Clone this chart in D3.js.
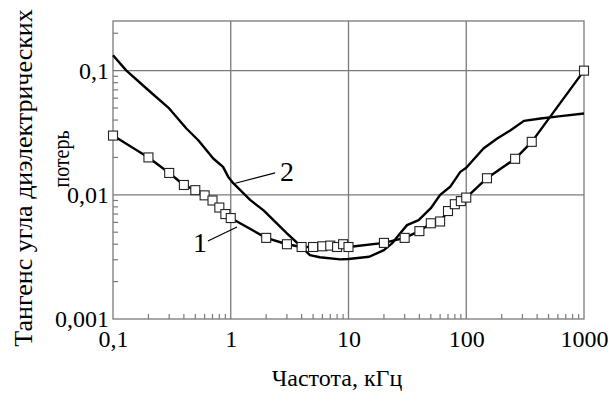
<!DOCTYPE html>
<html>
<head>
<meta charset="utf-8">
<script src="https://cdn.jsdelivr.net/npm/d3@7"></script>
<style>
  body { margin: 0; background: #fff; }
  svg text { font-family: "Liberation Serif", "Times New Roman", "DejaVu Serif", serif; fill: #000; }
</style>
</head>
<body>
<div id="chart"></div>
<script>
// curve 1 (with square markers)
const freq1 = [0.1, 0.2, 0.3, 0.4, 0.5, 0.6, 0.7, 0.8, 0.9, 1, 2, 3, 4, 5, 6, 7, 8, 9, 10,
    20, 30, 40, 50, 60, 70, 80, 90, 100, 150, 260, 360, 1000];
const tan1 = [0.030, 0.020, 0.015, 0.012, 0.0109, 0.0099, 0.0090, 0.0079, 0.0070, 0.0065,
    0.0045, 0.0040, 0.0038, 0.0038, 0.00385, 0.0039, 0.0038, 0.0040, 0.0038,
    0.0041, 0.0045, 0.0051, 0.0059, 0.0061, 0.0074, 0.0084, 0.0089, 0.0095,
    0.0136, 0.0195, 0.0267, 0.100];

// curve 2 (plain line)
const freq2 = [0.1, 0.13, 0.2, 0.3, 0.42, 0.53, 0.71, 0.86, 0.95, 1.05, 1.46, 1.9, 3, 4, 4.7,
    5.7, 8.5, 10, 15, 20, 23.4, 27.5, 31.4, 39.4, 50, 60, 73, 89, 100, 140, 183, 238,
    309, 428, 634, 1000];
const tan2 = [0.133, 0.1, 0.0695, 0.0496, 0.0342, 0.0275, 0.0196, 0.0168, 0.014, 0.0124,
    0.0091, 0.0075, 0.0049, 0.0038, 0.00327, 0.00314, 0.00302, 0.00304, 0.00317,
    0.00359, 0.00406, 0.0049, 0.0057, 0.00626, 0.0078, 0.0100, 0.0116, 0.0153,
    0.0165, 0.0236, 0.0284, 0.0331, 0.0394, 0.0412, 0.043, 0.0452];

const xTicks = [0.1, 1, 10, 100, 1000];
const yTicks = [0.001, 0.01, 0.1];

// curve labels: text, anchor on curve, end of leader line (data coords)
const labels = [
    {text: "1", from: [1.13, 0.0055], to: [0.64, 0.00425]},
    {text: "2", from: [1.09, 0.0124], to: [2.38, 0.0150]}
];

const width = 608, height = 398;
const margin = {top: 21, right: 24, bottom: 79, left: 113};

const svg = d3.select("#chart").append("svg")
    .attr("width", width)
    .attr("height", height)
    .style("display", "block");

const x = d3.scaleLog().domain([0.1, 1000]).range([margin.left, width - margin.right]);
const y = d3.scaleLog().domain([0.001, 0.251]).range([height - margin.bottom, margin.top]);

const fmt = d => String(d).replace(".", ",");
const gridColor = "#7a7a7a";

// grid
svg.append("g")
    .selectAll("line")
    .data([1, 10, 100])
    .join("line")
    .attr("x1", d => x(d)).attr("x2", d => x(d))
    .attr("y1", y.range()[1]).attr("y2", y.range()[0])
    .attr("stroke", gridColor).attr("stroke-width", 1.3);

svg.append("g")
    .selectAll("line")
    .data([0.01, 0.1])
    .join("line")
    .attr("y1", d => y(d)).attr("y2", d => y(d))
    .attr("x1", x.range()[0]).attr("x2", x.range()[1])
    .attr("stroke", gridColor).attr("stroke-width", 1.3);

// frame
svg.append("rect")
    .attr("x", x.range()[0]).attr("y", y.range()[1])
    .attr("width", x.range()[1] - x.range()[0])
    .attr("height", y.range()[0] - y.range()[1])
    .attr("fill", "none")
    .attr("stroke", gridColor).attr("stroke-width", 1.3);

// minor ticks (inward)
const minorX = [];
[0.1, 1, 10, 100].forEach(dec => { for (let k = 2; k <= 9; k++) minorX.push(dec * k); });
const minorY = [];
[0.001, 0.01, 0.1].forEach(dec => { for (let k = 2; k <= 9; k++) if (dec * k <= 0.251) minorY.push(dec * k); });

svg.append("g")
    .selectAll("line")
    .data(minorX)
    .join("line")
    .attr("x1", d => x(d)).attr("x2", d => x(d))
    .attr("y1", y.range()[0]).attr("y2", y.range()[0] - 5)
    .attr("stroke", gridColor).attr("stroke-width", 1.2);

svg.append("g")
    .selectAll("line")
    .data(minorY)
    .join("line")
    .attr("y1", d => y(d)).attr("y2", d => y(d))
    .attr("x1", x.range()[0]).attr("x2", x.range()[0] + 5)
    .attr("stroke", gridColor).attr("stroke-width", 1.2);

// tick labels
const xAxis = svg.append("g")
    .attr("transform", `translate(0,${y.range()[0]})`)
    .call(d3.axisBottom(x).tickValues(xTicks).tickFormat(fmt).tickSize(0).tickPadding(11));
xAxis.select(".domain").remove();
xAxis.selectAll("text").style("font-size", "24px");

const yAxis = svg.append("g")
    .attr("transform", `translate(${x.range()[0]},0)`)
    .call(d3.axisLeft(y).tickValues(yTicks).tickFormat(fmt).tickSize(0).tickPadding(4));
yAxis.select(".domain").remove();
yAxis.selectAll("text").style("font-size", "24px");

// lines
const line = d3.line().x(d => x(d[0])).y(d => y(d[1]));

svg.append("path")
    .datum(d3.zip(freq2, tan2))
    .attr("d", line)
    .attr("fill", "none")
    .attr("stroke", "#000")
    .attr("stroke-width", 2.4)
    .attr("stroke-linejoin", "round");

const pts1 = d3.zip(freq1, tan1);
svg.append("path")
    .datum(pts1)
    .attr("d", line)
    .attr("fill", "none")
    .attr("stroke", "#000")
    .attr("stroke-width", 2.4)
    .attr("stroke-linejoin", "round");

const ms = 9;
svg.append("g")
    .selectAll("rect")
    .data(pts1)
    .join("rect")
    .attr("x", d => x(d[0]) - ms / 2)
    .attr("y", d => y(d[1]) - ms / 2)
    .attr("width", ms).attr("height", ms)
    .attr("fill", "#fff")
    .attr("stroke", "#222")
    .attr("stroke-width", 1.1);

// curve labels with leader lines
labels.forEach(l => {
    svg.append("line")
        .attr("x1", x(l.from[0])).attr("y1", y(l.from[1]))
        .attr("x2", x(l.to[0])).attr("y2", y(l.to[1]))
        .attr("stroke", "#000").attr("stroke-width", 1.2);
    const left = l.to[0] < l.from[0];
    svg.append("text")
        .attr("x", x(l.to[0]) + (left ? -1 : 5))
        .attr("y", y(l.to[1]) + (left ? 11 : 8))
        .attr("text-anchor", left ? "end" : "start")
        .style("font-size", "28px")
        .text(l.text);
});

// axis titles
svg.append("text")
    .attr("x", 337).attr("y", 386)
    .attr("text-anchor", "middle")
    .style("font-size", "24px")
    .text("Частота, кГц");

svg.append("text")
    .attr("transform", "translate(32,178) rotate(-90)")
    .attr("text-anchor", "middle")
    .style("font-size", "26px")
    .text("Тангенс угла диэлектрических");

svg.append("text")
    .attr("transform", "translate(69,159) rotate(-90)")
    .attr("text-anchor", "middle")
    .attr("textLength", 57)
    .attr("lengthAdjust", "spacingAndGlyphs")
    .style("font-size", "23px")
    .text("потерь");
</script>
</body>
</html>
